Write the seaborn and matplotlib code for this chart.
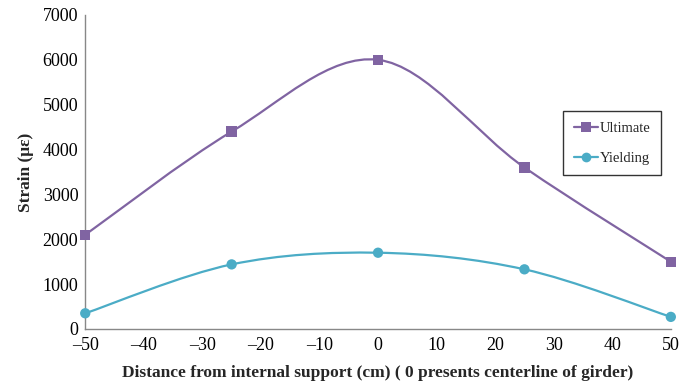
import numpy as np
import pandas as pd
import matplotlib
matplotlib.use("Agg")
import matplotlib.pyplot as plt
from matplotlib.path import Path
from matplotlib.patches import PathPatch
from matplotlib.lines import Line2D
import seaborn as sns

# Strain readings along the girder
distance = [-50, -25, 0, 25, 50]
ultimate = [2100, 4400, 6000, 3600, 1500]
yielding = [350, 1440, 1700, 1330, 270]
series_names = ["Ultimate", "Yielding"]
x_ticks = [-50, -40, -30, -20, -10, 0, 10, 20, 30, 40, 50]
y_ticks = [0, 1000, 2000, 3000, 4000, 5000, 6000, 7000]

colors = {"Ultimate": "#8064A2", "Yielding": "#4BACC6"}
markers = {"Ultimate": "s", "Yielding": "o"}

df = pd.DataFrame({
    "distance": distance * 2,
    "strain": ultimate + yielding,
    "series": ["Ultimate"] * len(distance) + ["Yielding"] * len(distance),
})

sns.set_theme(style="white")
plt.rcParams["font.family"] = ["Liberation Serif", "DejaVu Serif"]

fig = plt.figure(figsize=(6.93, 3.83), dpi=100)
ax = fig.add_axes([0.123, 0.141, 0.845, 0.820])


def smooth_path(xs, ys):
    """Cubic Bezier through the points (Catmull-Rom style control points)."""
    pts = np.column_stack([xs, ys]).astype(float)
    n = len(pts)
    verts = [pts[0]]
    codes = [Path.MOVETO]
    for i in range(n - 1):
        p0 = pts[i - 1] if i > 0 else pts[i]
        p1 = pts[i]
        p2 = pts[i + 1]
        p3 = pts[i + 2] if i + 2 < n else pts[i + 1]
        c1 = p1 + (p2 - p0) / 6.0
        c2 = p2 - (p3 - p1) / 6.0
        verts += [c1, c2, p2]
        codes += [Path.CURVE4] * 3
    return Path(verts, codes)


for name in series_names:
    sub = df[df["series"] == name]
    patch = PathPatch(smooth_path(sub["distance"].values, sub["strain"].values),
                      fill=False, edgecolor=colors[name], lw=1.6, zorder=2)
    ax.add_patch(patch)

sns.scatterplot(data=df, x="distance", y="strain", hue="series", style="series",
                palette=colors, markers=markers, s=55, edgecolor="none",
                legend=False, ax=ax, zorder=3, clip_on=False)

ax.set_xlim(-50, 50)
ax.set_ylim(0, 7000)
ax.set_xticks(x_ticks)
ax.set_yticks(y_ticks)
ax.set_xticklabels([f"{t}".replace("-", "\u2013") for t in x_ticks])
ax.tick_params(axis="both", direction="out", length=4, width=1, color="#888888",
               labelsize=13, labelcolor="black", pad=2)
ax.tick_params(axis="y", pad=1)
for side in ["top", "right"]:
    ax.spines[side].set_visible(False)
for side in ["left", "bottom"]:
    ax.spines[side].set_color("#888888")
    ax.spines[side].set_linewidth(1)

ax.set_xlabel("Distance from internal support (cm) ( 0 presents centerline of girder)",
              fontsize=12.5, fontweight="bold", labelpad=8)
ax.set_ylabel("Strain (\u03bc\u03b5)", fontsize=12.5, fontweight="bold", labelpad=6)

handles = [Line2D([0], [0], color=colors[n], marker=markers[n], lw=1.6,
                  markersize=7, markeredgewidth=0) for n in series_names]
leg = ax.legend(handles, series_names, loc="upper left",
                bbox_to_anchor=(0.816, 0.694), borderaxespad=0, frameon=True,
                fancybox=False, edgecolor="black", fontsize=10.5,
                handlelength=1.7, handletextpad=0.1, labelspacing=1.15,
                borderpad=0.72)
leg.get_frame().set_linewidth(1.0)

fig.savefig("out.png", dpi=100)
